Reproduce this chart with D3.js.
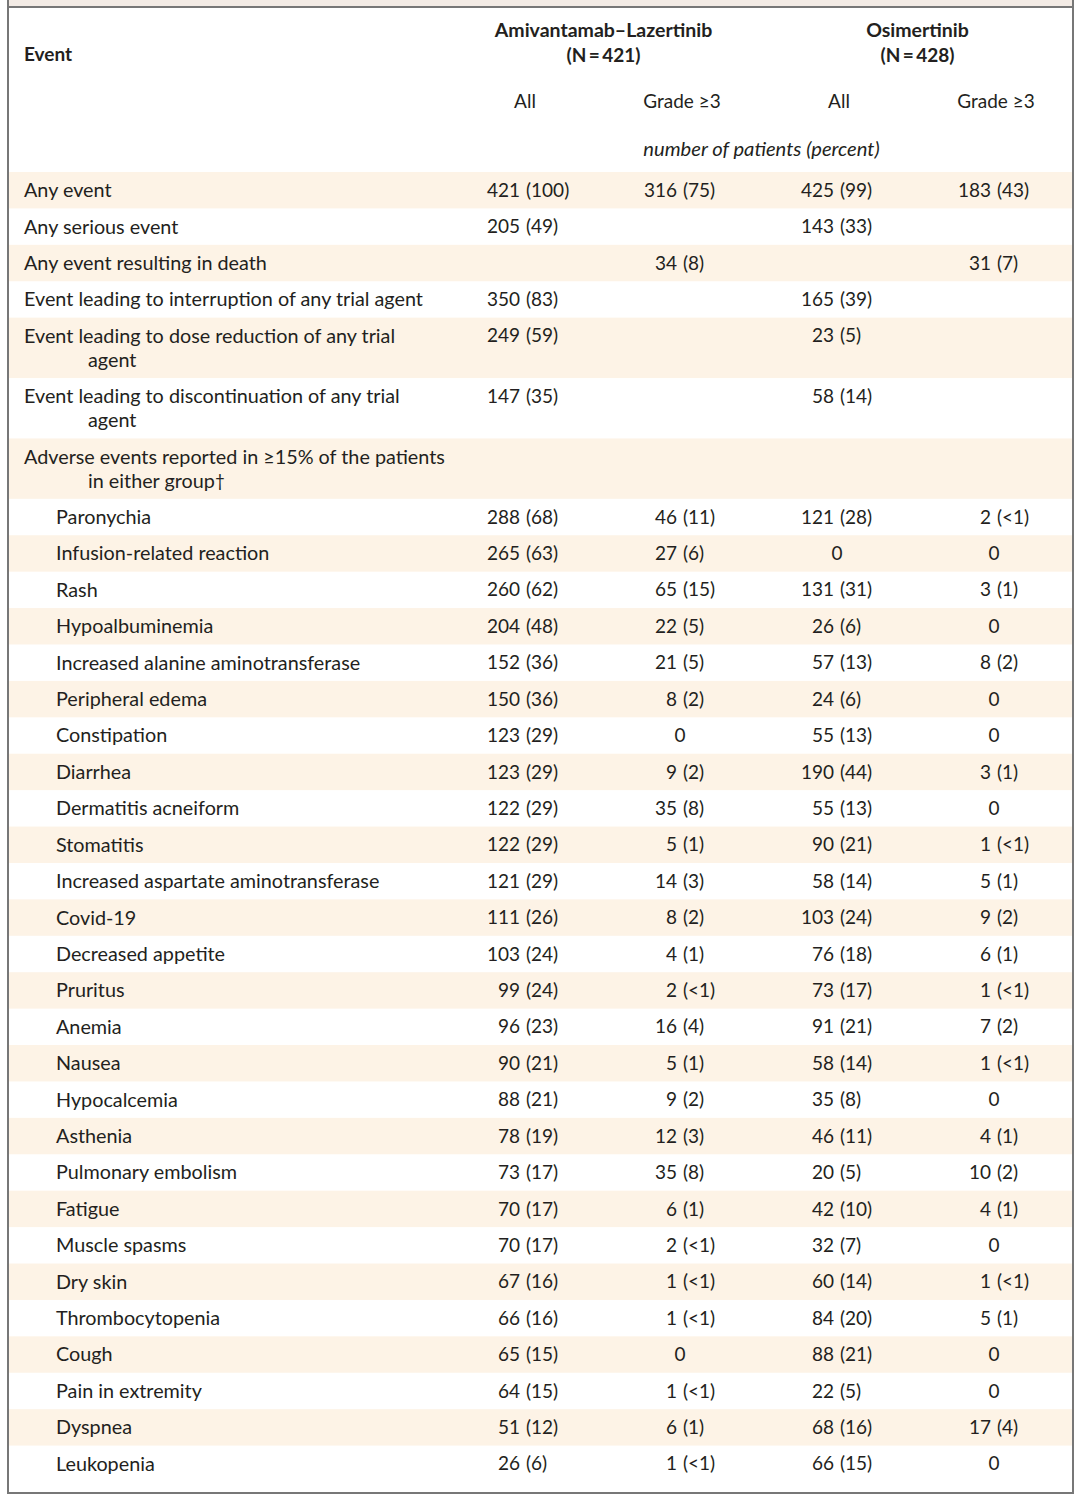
<!DOCTYPE html>
<html>
<head>
<meta charset="utf-8">
<script src="https://cdn.jsdelivr.net/npm/d3@7"></script>
<style>
  html, body { margin: 0; padding: 0; background: #fff; }
  svg { display: block; }
  text { font-family: Lato, "Open Sans", sans-serif; fill: #231f20; }
</style>
</head>
<body>
<svg width="1080" height="1501"></svg>
<script>
// rows of the table, "\n" marks the wrapped second line
const events = [
  "Any event",
  "Any serious event",
  "Any event resulting in death",
  "Event leading to interruption of any trial agent",
  "Event leading to dose reduction of any trial\nagent",
  "Event leading to discontinuation of any trial\nagent",
  "Adverse events reported in \u226515% of the patients\nin either group\u2020",
  "Paronychia",
  "Infusion-related reaction",
  "Rash",
  "Hypoalbuminemia",
  "Increased alanine aminotransferase",
  "Peripheral edema",
  "Constipation",
  "Diarrhea",
  "Dermatitis acneiform",
  "Stomatitis",
  "Increased aspartate aminotransferase",
  "Covid-19",
  "Decreased appetite",
  "Pruritus",
  "Anemia",
  "Nausea",
  "Hypocalcemia",
  "Asthenia",
  "Pulmonary embolism",
  "Fatigue",
  "Muscle spasms",
  "Dry skin",
  "Thrombocytopenia",
  "Cough",
  "Pain in extremity",
  "Dyspnea",
  "Leukopenia"
];
const subItem = events.map((d, i) => i >= 7);

const amiAll = ["421 (100)", "205 (49)", "", "350 (83)", "249 (59)", "147 (35)", "",
  "288 (68)", "265 (63)", "260 (62)", "204 (48)", "152 (36)", "150 (36)", "123 (29)", "123 (29)",
  "122 (29)", "122 (29)", "121 (29)", "111 (26)", "103 (24)", "99 (24)", "96 (23)", "90 (21)",
  "88 (21)", "78 (19)", "73 (17)", "70 (17)", "70 (17)", "67 (16)", "66 (16)", "65 (15)",
  "64 (15)", "51 (12)", "26 (6)"];
const amiG3 = ["316 (75)", "", "34 (8)", "", "", "", "",
  "46 (11)", "27 (6)", "65 (15)", "22 (5)", "21 (5)", "8 (2)", "0", "9 (2)",
  "35 (8)", "5 (1)", "14 (3)", "8 (2)", "4 (1)", "2 (<1)", "16 (4)", "5 (1)",
  "9 (2)", "12 (3)", "35 (8)", "6 (1)", "2 (<1)", "1 (<1)", "1 (<1)", "0",
  "1 (<1)", "6 (1)", "1 (<1)"];
const osiAll = ["425 (99)", "143 (33)", "", "165 (39)", "23 (5)", "58 (14)", "",
  "121 (28)", "0", "131 (31)", "26 (6)", "57 (13)", "24 (6)", "55 (13)", "190 (44)",
  "55 (13)", "90 (21)", "58 (14)", "103 (24)", "76 (18)", "73 (17)", "91 (21)", "58 (14)",
  "35 (8)", "46 (11)", "20 (5)", "42 (10)", "32 (7)", "60 (14)", "84 (20)", "88 (21)",
  "22 (5)", "68 (16)", "66 (15)"];
const osiG3 = ["183 (43)", "", "31 (7)", "", "", "", "",
  "2 (<1)", "0", "3 (1)", "0", "8 (2)", "0", "0", "3 (1)",
  "0", "1 (<1)", "5 (1)", "9 (2)", "6 (1)", "1 (<1)", "7 (2)", "1 (<1)",
  "0", "4 (1)", "10 (2)", "4 (1)", "0", "1 (<1)", "5 (1)", "0",
  "0", "17 (4)", "0"];

const columns = ["amiAll", "amiG3", "osiAll", "osiG3"];
const columnLabels = ["All", "Grade \u22653", "All", "Grade \u22653"];
const groups = [
  {name: "Amivantamab\u2013Lazertinib", n: "(N\u2009=\u2009421)", cols: ["amiAll", "amiG3"]},
  {name: "Osimertinib", n: "(N\u2009=\u2009428)", cols: ["osiAll", "osiG3"]}
];
const unitLabel = "number of patients (percent)";

const values = {amiAll, amiG3, osiAll, osiG3};

const svg = d3.select("svg");
const frameL = 8, frameR = 1073, frameT = 6, frameB = 1493;
const lineH = 24, pad = 12.45;

const x = d3.scalePoint().domain(columns).range([526, 997]);

// cumulative row tops
const rows = events.map((e, i) => ({name: e, lines: e.split("\n"), sub: subItem[i], i}));
let acc = 0;
rows.forEach(r => { r.y0 = acc; r.h = pad + lineH * r.lines.length; acc += r.h; });
const y = d3.scaleLinear().domain([0, acc]).range([172, 1482]);

// top strip
svg.append("rect").attr("x", frameL).attr("y", 0).attr("width", frameR - frameL).attr("height", frameT)
  .attr("fill", "#f3ebe5");

// zebra bands
svg.append("g").selectAll("rect")
  .data(rows.filter((r, i) => i < 7 ? i % 2 === 0 : (i - 7) % 2 === 1))
  .join("rect")
  .attr("x", frameL).attr("width", frameR - frameL)
  .attr("y", r => y(r.y0))
  .attr("height", r => y(r.y0 + r.h) - y(r.y0))
  .attr("fill", "#fdf3e6");

// header
const head = svg.append("g").attr("font-size", 19);
head.append("text").attr("x", 24).attr("y", 61).attr("font-weight", 700).text("Event");
groups.forEach(g => {
  const cx = (x(g.cols[0]) + x(g.cols[1])) / 2 - 1;
  head.append("text").attr("x", cx).attr("y", 37).attr("text-anchor", "middle")
    .attr("font-size", 19.5).attr("font-weight", 700).text(g.name);
  head.append("text").attr("x", cx).attr("y", 62).attr("text-anchor", "middle")
    .attr("font-weight", 700).text(g.n);
});
head.selectAll(".colhead").data(columns).join("text")
  .attr("class", "colhead")
  .attr("x", d => x(d) - 1).attr("y", 108).attr("text-anchor", "middle")
  .text((d, i) => columnLabels[i]);
head.append("text").attr("x", (x("amiG3") + x("osiAll")) / 2).attr("y", 156)
  .attr("text-anchor", "middle").attr("font-style", "italic").attr("font-size", 20.2).text(unitLabel);

// event labels
const body = svg.append("g").attr("font-size", 19);
const label = body.selectAll(".ev").data(rows).join("text")
  .attr("class", "ev")
  .attr("font-size", 19.8)
  .attr("y", r => y(r.y0) + 18)
  .attr("dy", "0.36em");
label.each(function(r) {
  const t = d3.select(this);
  const x0 = r.sub ? 56 : 24;
  r.lines.forEach((ln, k) => {
    const dag = ln.endsWith("\u2020");
    t.append("tspan").attr("x", k === 0 ? x0 : x0 + 64)
      .attr("dy", k === 0 ? null : lineH)
      .text(dag ? ln.slice(0, -1) : ln);
    if (dag) t.append("tspan").attr("font-size", 17).attr("dy", -1).text("\u2020");
  });
});

// cells: number right-aligned, percent left-aligned, zero centered
const cells = [];
rows.forEach(r => columns.forEach(c => {
  const v = values[c][r.i];
  if (v) cells.push({col: c, row: r, v});
}));
const cell = body.selectAll(".cell").data(cells).join("g").attr("class", "cell")
  .attr("transform", d => `translate(${x(d.col)},${y(d.row.y0) + 18})`);
cell.each(function(d) {
  const g = d3.select(this);
  const parts = d.v.split(" ");
  if (parts.length === 1) {
    g.append("text").attr("x", -3).attr("dy", "0.36em").attr("text-anchor", "middle").text(parts[0]);
  } else {
    g.append("text").attr("x", -6).attr("dy", "0.36em").attr("text-anchor", "end").text(parts[0]);
    g.append("text").attr("x", 0).attr("dy", "0.36em").attr("text-anchor", "start").text(parts[1]);
  }
});

// frame
const frame = svg.append("g").attr("stroke", "#777").attr("stroke-width", 2).attr("fill", "none");
frame.append("line").attr("x1", frameL).attr("x2", frameR).attr("y1", frameT + 1).attr("y2", frameT + 1);
frame.append("path").attr("d", `M${frameL},0V${frameB}H${frameR}V0`);
</script>
</body>
</html>
